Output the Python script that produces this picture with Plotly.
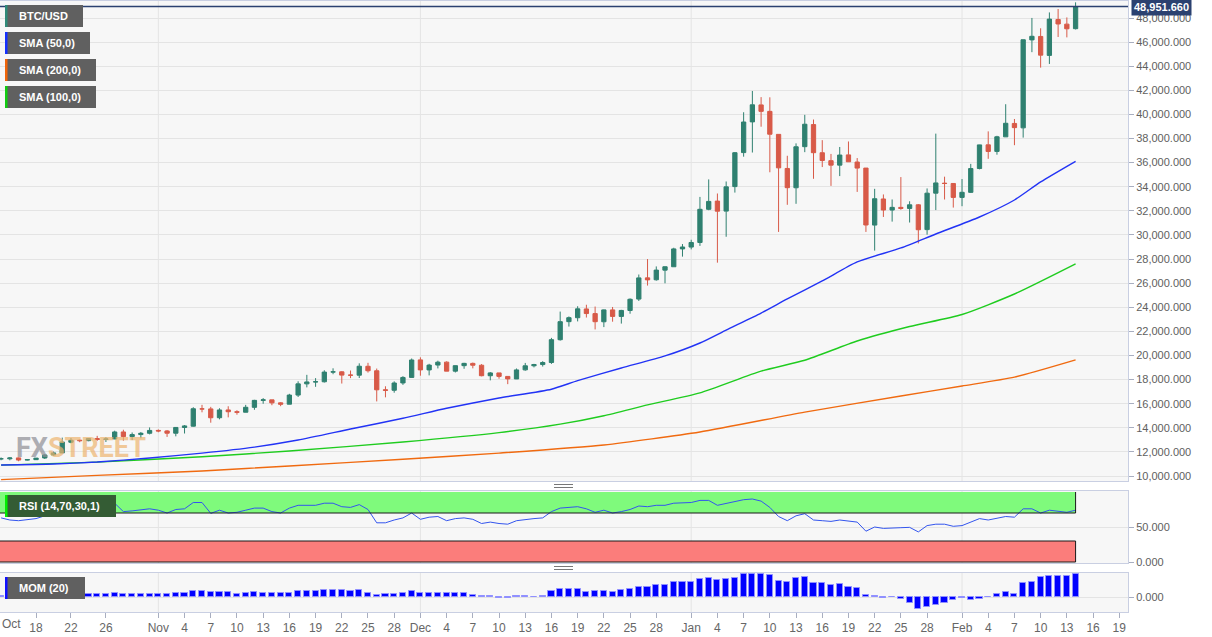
import plotly.graph_objects as go
import pandas as pd

W, H = 1212, 637

# ---------------- data ----------------
dates = pd.date_range("2020-10-14", "2021-02-14", freq="D").strftime("%Y-%m-%d").tolist()

open_ = [11429, 11426, 11502, 11322, 11355, 11495, 11746, 11914, 12801, 12971, 12932, 13109, 13031, 13072,
         13654, 13272, 13437, 13546, 13781, 13738, 13550, 14024, 14133, 15566, 15565, 14834, 15480, 15332,
         15291, 15697, 16276, 16317, 16069, 15957, 16714, 17645, 17803, 17818, 18621, 18643, 18370, 18365,
         19104, 18730, 17154, 17113, 17720, 18179, 19634, 18802, 19206, 19447, 18699, 19154, 19343, 19191,
         18320, 18553, 18263, 18051, 18806, 19144, 19246, 19418, 21308, 22806, 23132, 23861, 23474, 22795,
         23781, 23241, 23733, 24678, 26439, 26280, 27081, 27360, 28841, 28994, 29376, 32129, 32810, 31977,
         34013, 36834, 39381, 40788, 40254, 38346, 35516, 33915, 37325, 39157, 36821, 36163, 35792, 36642,
         36050, 35549, 30818, 32985, 32065, 32289, 32200, 32500, 30442, 33467, 34295, 34271, 33115, 33534,
         35510, 37476, 36931, 38139, 39251, 38886, 46184, 46470, 44898, 47877, 47491, 47114]
high = [11539, 11569, 11540, 11386, 11483, 11799, 12028, 13184, 13155, 13024, 13145, 13329, 13225, 13759,
        13837, 13612, 13651, 14028, 13862, 13817, 14060, 14229, 15706, 15903, 15737, 15620, 15785, 15456,
        15901, 16320, 16463, 16317, 16123, 16818, 17858, 18393, 18119, 18773, 18936, 18695, 18751, 19348,
        19390, 18915, 17445, 17854, 18283, 19749, 19845, 19308, 19567, 19512, 19160, 19390, 19411, 19283,
        18626, 18553, 18268, 18919, 19381, 19305, 19525, 21458, 23642, 23238, 24085, 24209, 24059, 23811,
        24024, 23786, 24734, 26718, 28000, 27389, 27370, 28937, 29244, 29601, 33155, 34608, 33440, 34437,
        36879, 40180, 41946, 41436, 41420, 38346, 36568, 37599, 39966, 39577, 37864, 36722, 37299, 37755,
        36378, 35553, 33826, 33360, 32944, 34802, 32794, 32564, 33858, 38406, 34834, 34288, 34638, 35896,
        37480, 38592, 38225, 40846, 39621, 46204, 48004, 47146, 48463, 48745, 48047, 49300]
low = [11307, 11303, 11223, 11285, 11347, 11414, 11692, 11900, 12716, 12805, 12885, 12910, 12822, 13060,
       12932, 12980, 13136, 13454, 13628, 13243, 13290, 13525, 14102, 15284, 14423, 14702, 14865, 15087,
       15288, 15493, 15993, 15872, 15793, 15957, 16555, 17352, 17399, 17757, 18444, 17671, 18119, 18128,
       18581, 16188, 16526, 16910, 17559, 18179, 18321, 18347, 18926, 18698, 18590, 18897, 18931, 18270,
       17935, 18070, 17619, 18046, 18734, 19012, 19079, 19299, 21234, 22399, 22827, 23147, 22159, 22354,
       22802, 22645, 23463, 24522, 25800, 26207, 25987, 27360, 28201, 28803, 29091, 32052, 27700, 29850,
       33514, 36492, 36838, 38980, 35200, 30250, 32500, 32584, 36868, 34659, 35633, 34069, 34883, 36069,
       33570, 30250, 28700, 31493, 31106, 32087, 31030, 29300, 30023, 32064, 32940, 32270, 32385, 33489,
       35443, 36317, 36658, 38138, 37446, 38076, 45166, 43882, 44187, 46424, 46392, 47050]
close = [11429, 11495, 11322, 11358, 11483, 11743, 11917, 12823, 12965, 12932, 13108, 13031, 13075, 13654,
         13271, 13437, 13546, 13781, 13737, 13550, 14029, 14156, 15580, 15566, 14833, 15479, 15332, 15290,
         15701, 16276, 16317, 16068, 15955, 16716, 17645, 17804, 17817, 18621, 18642, 18370, 18364, 19107,
         18732, 17150, 17108, 17717, 18177, 19625, 18803, 19201, 19445, 18699, 19155, 19345, 19191, 18321,
         18553, 18264, 18058, 18803, 19142, 19246, 19417, 21310, 22805, 23137, 23869, 23477, 22803, 23783,
         23241, 23736, 24665, 26437, 26272, 27084, 27362, 28841, 29001, 29374, 32127, 32782, 31971, 33992,
         36825, 39371, 40797, 40254, 38356, 35566, 33922, 37316, 39187, 36825, 36178, 35792, 36630, 36070,
         35547, 30826, 33006, 32068, 32289, 32200, 32500, 30432, 33467, 34316, 34269, 33114, 33538, 35510,
         37472, 36926, 38144, 39266, 38903, 46196, 46481, 44918, 47909, 47504, 47105, 48951.66]

last_price = 48951.66
last_price_text = "48,951.660"

rsi = [63, 60, 59, 60, 62, 66, 69, 74, 76, 79, 80, 79, 79, 84, 72, 73, 74, 76, 74, 70, 75, 76, 85, 85,
       69.5, 74, 70, 71, 74, 77, 77, 72, 70, 77, 81, 81, 81, 84, 84, 79, 78, 82, 75, 56, 56, 60, 63, 70,
       61, 64, 65, 59, 62, 63, 61, 55, 57, 55, 54, 59, 61, 62, 63, 72, 77, 78, 79, 76, 71, 74, 70, 72,
       75, 80, 79, 81, 81, 84, 84, 85, 88, 88, 81, 84, 87, 89, 90, 87, 78, 65, 59, 66, 69, 60, 59, 58,
       60, 58, 57, 44, 50, 48, 49, 49, 49.5, 43, 52, 54, 54, 51, 52, 57, 62, 60, 63, 65, 64, 76, 76, 70,
       74, 72, 71, 74]

mom = [684, 793, 568, 583, 774, 898, 1132, 2203, 2380, 2366, 2428, 2234, 2471, 2986, 2356, 2373, 2250,
       2397, 2182, 2125, 2600, 2661, 4258, 4208, 3350, 3736, 3415, 2467, 2736, 3344, 3209, 3037, 2880,
       3062, 4374, 4367, 4271, 4840, 4905, 4820, 4335, 4951, 3152, 1584, 2275, 2238, 2845, 4335, 3102,
       2925, 3128, 2631, 3200, 2629, 1546, 517, 736, -357, -584, 433, 778, 139, 685, 4160, 5697, 5420,
       5692, 3852, 4000, 4582, 3796, 5037, 5510, 7092, 7081, 8763, 8809, 10577, 10943, 10571, 12985,
       13536, 12554, 12682, 14020, 16234, 16928, 16777, 15553, 11783, 10681, 13580, 14522, 10388, 9906,
       8708, 9268, 7229, 6546, 1452, 879, -714, 318, -1626, -4256, -8939, -7330, -5938, -4087, -2452,
       -384, -1806, -1715, 101, 1966, 3474, 2273, 10126, 10934, 14092, 14903, 15436, 14816, 16585]

sma50_dates = ["2020-10-14", "2020-10-20", "2020-10-25", "2020-10-31", "2020-11-06", "2020-11-12",
               "2020-11-17", "2020-11-23", "2020-11-29", "2020-12-04", "2020-12-10", "2020-12-16",
               "2020-12-19", "2020-12-24", "2020-12-29", "2021-01-02", "2021-01-05", "2021-01-09",
               "2021-01-12", "2021-01-16", "2021-01-20", "2021-01-25", "2021-01-29", "2021-02-03",
               "2021-02-07", "2021-02-10", "2021-02-14"]
sma50 = [10912, 10995, 11160, 11490, 11900, 12400, 12985, 13900, 14790, 15620, 16470, 17200,
         17910, 18960, 19960, 21035, 22110, 23520, 24690, 26180, 27760, 28920, 30080, 31490,
         32900, 34400, 36110]

sma100_dates = ["2020-10-14", "2020-10-25", "2020-11-06", "2020-11-16", "2020-11-29", "2020-12-10",
                "2020-12-17", "2020-12-22", "2020-12-27", "2021-01-02", "2021-01-09", "2021-01-14",
                "2021-01-20", "2021-01-26", "2021-02-01", "2021-02-07", "2021-02-14"]
sma100 = [10900, 11150, 11600, 12075, 12824, 13600, 14300, 15000, 15900, 16900, 18700, 19600,
          21200, 22400, 23400, 25100, 27600]

sma200_dates = ["2020-10-14", "2020-10-25", "2020-11-06", "2020-11-16", "2020-11-29", "2020-12-10",
                "2020-12-22", "2021-01-02", "2021-01-14", "2021-01-25", "2021-02-01", "2021-02-07",
                "2021-02-14"]
sma200 = [9700, 10050, 10420, 10830, 11386, 11900, 12570, 13650, 15300, 16640, 17470, 18200, 19630]

tick_dates = ["2020-10-18", "2020-10-22", "2020-10-26",
              "2020-11-01", "2020-11-04", "2020-11-07", "2020-11-10", "2020-11-13", "2020-11-16",
              "2020-11-19", "2020-11-22", "2020-11-25", "2020-11-28",
              "2020-12-01", "2020-12-04", "2020-12-07", "2020-12-10", "2020-12-13", "2020-12-16",
              "2020-12-19", "2020-12-22", "2020-12-25", "2020-12-28",
              "2021-01-01", "2021-01-04", "2021-01-07", "2021-01-10", "2021-01-13", "2021-01-16",
              "2021-01-19", "2021-01-22", "2021-01-25", "2021-01-28",
              "2021-02-01", "2021-02-04", "2021-02-07", "2021-02-10", "2021-02-13", "2021-02-16",
              "2021-02-19"]
tick_text = ["18", "22", "26",
             "Nov", "4", "7", "10", "13", "16", "19", "22", "25", "28",
             "Dec", "4", "7", "10", "13", "16", "19", "22", "25", "28",
             "Jan", "4", "7", "10", "13", "16", "19", "22", "25", "28",
             "Feb", "4", "7", "10", "13", "16", "19"]
first_label = "Oct"
month_starts = ["2020-11-01", "2020-12-01", "2021-01-01", "2021-02-01"]

price_ticks = list(range(10000, 48001, 2000))
x_range = ["2020-10-13 21:00", "2021-02-20 00:00"]

# ---------------- styling helpers ----------------
def pxx(x):
    return x / W


def pxy(y):
    return 1 - y / H


FONT = "Arial, Liberation Sans, sans-serif"
AXIS_LINE = "#c9cfe2"
GRID = "#e4e4e4"
BG = "#f7f7f7"
GREEN_C = "#2f8070"
RED_C = "#d85a48"

fig = go.Figure()

fig.add_trace(go.Candlestick(
    x=dates, open=open_, high=high, low=low, close=close,
    increasing=dict(line=dict(color=GREEN_C, width=1), fillcolor=GREEN_C),
    decreasing=dict(line=dict(color=RED_C, width=1), fillcolor=RED_C),
    whiskerwidth=0, xaxis="x", yaxis="y", showlegend=False, name="BTC/USD"))

fig.add_trace(go.Scatter(x=sma200_dates, y=sma200, mode="lines",
                         line=dict(color="#f06a10", width=1.4, shape="spline", smoothing=0.6),
                         xaxis="x", yaxis="y", showlegend=False))
fig.add_trace(go.Scatter(x=sma100_dates, y=sma100, mode="lines",
                         line=dict(color="#1fcc1f", width=1.4, shape="spline", smoothing=0.6),
                         xaxis="x", yaxis="y", showlegend=False))
fig.add_trace(go.Scatter(x=sma50_dates, y=sma50, mode="lines",
                         line=dict(color="#2233f5", width=1.4, shape="spline", smoothing=0.6),
                         xaxis="x", yaxis="y", showlegend=False))

fig.add_trace(go.Scatter(x=dates, y=rsi, mode="lines", line=dict(color="#3355ee", width=1),
                         xaxis="x2", yaxis="y2", showlegend=False))

fig.add_trace(go.Bar(x=dates, y=mom, marker=dict(color="#0000ff", line=dict(color="#9090ff", width=1)),
                     width=0.7 * 86400000, xaxis="x3", yaxis="y3", showlegend=False))

# ---------------- layout ----------------
x_dom = [0, pxx(1128)]
main_dom = [pxy(481), pxy(1)]
rsi_dom = [pxy(563), pxy(491)]
mom_dom = [pxy(612), pxy(573)]

ppx = 82.97  # price per pixel
main_range = [48000 - (481 - 18) * ppx, 48000 + (18 - 1) * ppx]
rsi_range = [-(563 - 562) / 0.7, (562 - 491) / 0.7]
mom_range = [-(612 - 597) * 721, (597 - 573) * 721]

xcommon = dict(type="date", range=x_range, domain=x_dom, showgrid=False, zeroline=False,
               showline=True, linecolor=AXIS_LINE, mirror=True, rangeslider=dict(visible=False),
               automargin=False, fixedrange=True)
ycommon = dict(side="right", showline=True, linecolor=AXIS_LINE, mirror=True, zeroline=False,
               ticks="outside", ticklen=5, tickcolor="#a8aec0", tickformat=",.3f",
               tickfont=dict(family=FONT, size=11, color="#606060"), automargin=False,
               gridcolor=GRID, fixedrange=True)

fig.update_layout(
    width=W, height=H, margin=dict(l=0, r=0, t=0, b=0),
    paper_bgcolor="white", plot_bgcolor=BG, showlegend=False, bargap=0,
    xaxis=dict(**xcommon, anchor="y", showticklabels=False, ticks=""),
    xaxis2=dict(**xcommon, anchor="y2", matches="x", showticklabels=False, ticks=""),
    xaxis3=dict(**xcommon, anchor="y3", matches="x", tickvals=tick_dates, ticktext=tick_text,
                ticks="outside", ticklen=5, tickcolor="#a8aec0",
                tickfont=dict(family=FONT, size=12, color="#666666")),
    yaxis=dict(**ycommon, anchor="x", domain=main_dom, range=main_range, tickvals=price_ticks,
               showgrid=True),
    yaxis2=dict(**ycommon, anchor="x2", domain=rsi_dom, range=rsi_range, tickvals=[0, 50],
                showgrid=True),
    yaxis3=dict(**ycommon, anchor="x3", domain=mom_dom, range=mom_range, tickvals=[0],
                showgrid=True),
)

shapes = []
# month grid lines in every panel
for m in month_starts:
    for xr, yr in (("x", "y domain"), ("x2", "y2 domain"), ("x3", "y3 domain")):
        shapes.append(dict(type="line", xref=xr, yref=yr, x0=m, x1=m, y0=0, y1=1,
                           line=dict(color=GRID, width=1), layer="below"))

# RSI zones
last_date = dates[-1]
shapes.append(dict(type="rect", xref="x2", yref="y2", x0=x_range[0], x1=last_date, y0=70, y1=100,
                   fillcolor="#7ffa7c", line=dict(width=0), layer="below"))
shapes.append(dict(type="rect", xref="x2", yref="y2", x0=x_range[0], x1=last_date, y0=0, y1=30,
                   fillcolor="#fb7d7b", line=dict(width=0), layer="below"))
for yv in (70, 30, 0):
    shapes.append(dict(type="line", xref="x2", yref="y2", x0=x_range[0], x1=last_date, y0=yv, y1=yv,
                       line=dict(color="#1a1a1a", width=1)))
shapes.append(dict(type="line", xref="x2", yref="y2", x0=last_date, x1=last_date, y0=70, y1=100,
                   line=dict(color="#1a1a1a", width=1)))
shapes.append(dict(type="line", xref="x2", yref="y2", x0=last_date, x1=last_date, y0=0, y1=30,
                   line=dict(color="#1a1a1a", width=1)))

# last price line
shapes.append(dict(type="line", xref="x domain", yref="y", x0=0, x1=1, y0=last_price, y1=last_price,
                   line=dict(color="#2b4170", width=1.5)))

# panel separator handles
for yy in (486, 568):
    for dy in (-1.5, 1.5):
        shapes.append(dict(type="line", xref="paper", yref="paper", x0=pxx(554), x1=pxx(573),
                           y0=pxy(yy + dy), y1=pxy(yy + dy), line=dict(color="#777777", width=1)))

annotations = []

# legend boxes
legend_items = [
    ("BTC/USD", "#2f8a78", 5, 83, "#606060"),
    ("SMA (50,0)", "#1430ff", 32, 90, "#606060"),
    ("SMA (200,0)", "#f0650a", 59, 96, "#606060"),
    ("SMA (100,0)", "#10cc10", 86, 96, "#606060"),
    ("RSI (14,70,30,1)", "#00ee00", 495, 116, "#345c34"),
    ("MOM (20)", "#1010ff", 577, 85, "#606060"),
]
for label, col, ytop, xright, bg in legend_items:
    shapes.append(dict(type="rect", xref="paper", yref="paper", x0=pxx(5), x1=pxx(xright),
                       y0=pxy(ytop + 22), y1=pxy(ytop), fillcolor=bg, line=dict(width=0)))
    shapes.append(dict(type="rect", xref="paper", yref="paper", x0=pxx(5), x1=pxx(7.5),
                       y0=pxy(ytop + 22), y1=pxy(ytop), fillcolor=col, line=dict(width=0)))
    annotations.append(dict(xref="paper", yref="paper", x=pxx(17), y=pxy(ytop + 11), xanchor="left",
                            yanchor="middle", showarrow=False, text="<b>%s</b>" % label,
                            font=dict(family=FONT, size=11, color="white")))

# last price label
annotations.append(dict(xref="paper", yref="y", x=pxx(1131), y=last_price, xanchor="left",
                        yanchor="middle", showarrow=False, text="<b>%s</b>" % last_price_text,
                        bgcolor="#2b4170", borderpad=2,
                        font=dict(family=FONT, size=11, color="white")))

# first month label
annotations.append(dict(xref="paper", yref="paper", x=0, y=pxy(624), xanchor="left", yanchor="middle",
                        showarrow=False, text=first_label,
                        font=dict(family=FONT, size=12, color="#666666")))

# watermark
annotations.append(dict(xref="paper", yref="paper", x=pxx(14), y=pxy(448), xanchor="left",
                        yanchor="middle", showarrow=False, opacity=0.7,
                        text="<b><span style='color:#8e8e96'>FX</span>"
                             "<span style='color:#eeb570'>STREET</span></b>",
                        font=dict(family="Roboto, Liberation Sans, sans-serif", size=27)))

fig.update_layout(shapes=shapes, annotations=annotations)

fig.write_html("out.html", config={"displayModeBar": False})
